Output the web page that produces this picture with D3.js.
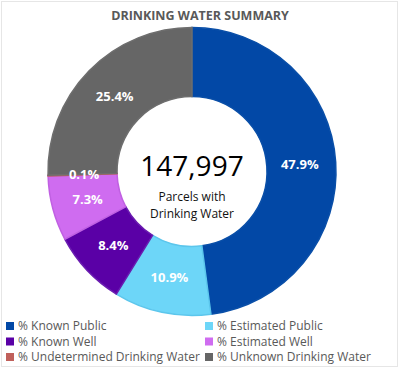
<!DOCTYPE html>
<html><head><meta charset="utf-8">
<script src="https://cdn.jsdelivr.net/npm/d3@7"></script>
<style>body{margin:0;background:#fff}svg{display:block}</style>
</head><body>
<script>
const categories = ["% Known Public","% Estimated Public","% Known Well","% Estimated Well","% Undetermined Drinking Water","% Unknown Drinking Water"];
const values = [47.9, 10.9, 8.4, 7.3, 0.1, 25.4];
const colors = ["#0248A6","#6DD6F8","#5A00A6","#CF6CF0","#C0605B","#666666"];
const strokes = ["#0A4FA8","#5CC6EC","#6A1CB0","#C060E2","#C0605B","#6E6E6E"];
const title = "DRINKING WATER SUMMARY";
const centerValue = "147,997";
const centerLines = ["Parcels with","Drinking Water"];

const W = 400, H = 369;
const svg = d3.select("body").append("svg").attr("width", W).attr("height", H);
svg.append("rect").attr("x",1.5).attr("y",1.5).attr("width",W-4).attr("height",H-4)
  .attr("fill","#fff").attr("stroke","#e6e6e6").attr("stroke-width",1);

svg.append("text").attr("x",200).attr("y",20).attr("text-anchor","middle")
  .attr("font-family","Open Sans").attr("font-weight","bold").attr("font-size",12.5)
  .attr("fill","#595959").text(title);

const cx = 192, cy = 171.5, R = 144, r0 = 75;
const pie = d3.pie().sort(null).value(d => d)(values);
const arc = d3.arc().innerRadius(r0).outerRadius(R);
const labelArc = d3.arc().innerRadius(108).outerRadius(108);
const g = svg.append("g").attr("transform",`translate(${cx},${cy})`);
g.selectAll("path").data(pie).join("path")
  .attr("d", arc).attr("fill",(d,i)=>colors[i]).attr("stroke",(d,i)=>strokes[i]).attr("stroke-width",1.5);
g.selectAll("text.lbl").data(pie).join("text").attr("class","lbl")
  .attr("x", d => labelArc.centroid(d)[0]).attr("y", d => labelArc.centroid(d)[1])
  .attr("dy","0.35em").attr("text-anchor","middle")
  .attr("font-family","Open Sans").attr("font-weight","bold").attr("font-size",13)
  .attr("fill","#fff").text((d,i)=> values[i].toFixed(1)+"%");

g.append("text").attr("x",0).attr("y",4).attr("text-anchor","middle")
  .attr("font-family","Open Sans").attr("font-size",28).attr("fill","#000").text(centerValue);
centerLines.forEach((t,i)=>{
  g.append("text").attr("x",0).attr("y",29+i*17.5).attr("text-anchor","middle")
   .attr("font-family","Open Sans").attr("font-size",12).attr("fill","#111").text(t);
});

const legend = svg.append("g");
categories.forEach((c,i)=>{
  const col = i%2, row = Math.floor(i/2);
  const x = col ? 205 : 6, y = 326 + row*15.5;
  legend.append("rect").attr("x",x).attr("y",y-4).attr("width",8).attr("height",8).attr("fill",colors[i]);
  legend.append("text").attr("x",x+12).attr("y",y).attr("dy","0.35em")
    .attr("font-family","Open Sans").attr("font-size",12).attr("fill","#595959").text(c);
});
</script>
</body></html>
